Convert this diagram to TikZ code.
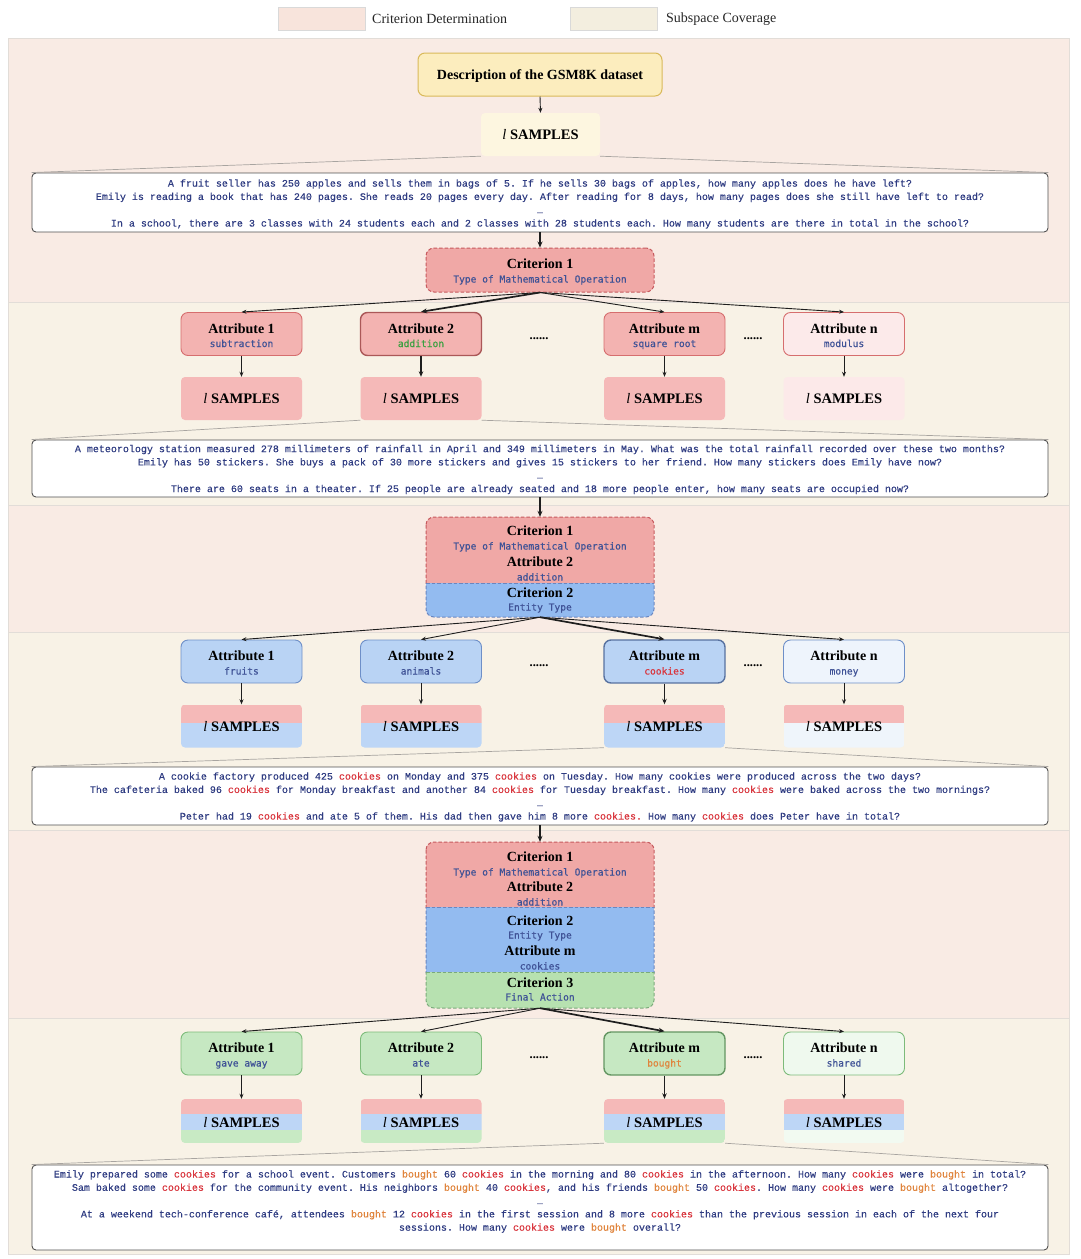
\documentclass[tikz,border=0pt]{standalone}
\usepackage{fontspec}
\usepackage{graphicx}
\setmainfont{Liberation Serif}
\setmonofont[FakeBold=0.3]{Liberation Mono}
\newfontfamily\labmono[FakeBold=0.5]{DejaVu Sans Mono}
\usetikzlibrary{arrows.meta}

\definecolor{bandpink}{HTML}{F9EBE4}
\definecolor{bandcream}{HTML}{F8F2E6}
\definecolor{bandline}{HTML}{E2DDD8}
\definecolor{legpink}{HTML}{F8E4DC}
\definecolor{legcream}{HTML}{F3EEDF}
\definecolor{legline}{HTML}{D9D9D9}
\definecolor{descfill}{HTML}{FCEDBE}
\definecolor{descdraw}{HTML}{D9B95A}
\definecolor{sampzero}{HTML}{FDF6E0}
\definecolor{tboxline}{HTML}{505050}
\definecolor{navy}{HTML}{2F3C82}
\definecolor{labblue}{HTML}{3F5296}
\definecolor{addgreen}{HTML}{3AA040}
\definecolor{ckred}{HTML}{D9363E}
\definecolor{btorange}{HTML}{E0843C}
\definecolor{critP}{HTML}{F0A8A6}
\definecolor{critPd}{HTML}{C65A5E}
\definecolor{critB}{HTML}{93BBF0}
\definecolor{critBd}{HTML}{6A86C0}
\definecolor{critG}{HTML}{B7E1B0}
\definecolor{critGd}{HTML}{7AAA7A}
\definecolor{attrPf}{HTML}{F3B3B1}
\definecolor{attrPd}{HTML}{D66E6E}
\definecolor{attrPl}{HTML}{FCEAEA}
\definecolor{attrBf}{HTML}{B9D3F4}
\definecolor{attrBd}{HTML}{6E8FC8}
\definecolor{attrBl}{HTML}{EEF4FC}
\definecolor{attrGf}{HTML}{C6E8C2}
\definecolor{attrGd}{HTML}{7DBB7A}
\definecolor{attrGl}{HTML}{EFF9EE}
\definecolor{sampP}{HTML}{F5B9B8}
\definecolor{sampPl}{HTML}{FCE9E9}
\definecolor{sampB}{HTML}{BDD6F6}
\definecolor{sampBl}{HTML}{EFF5FB}
\definecolor{sampG}{HTML}{C8EAC4}
\definecolor{sampGl}{HTML}{F2FAF1}
\definecolor{arrowc}{HTML}{1E1E1E}
\definecolor{fanc}{HTML}{A8A4A0}

\newcommand{\SAMP}{{\mdseries\itshape l} SAMPLES}
\newcommand{\ck}[1]{\textcolor{ckred}{#1}}
\newcommand{\bt}[1]{\textcolor{btorange}{#1}}

\tikzset{
  ttl/.style={font=\bfseries\fontsize{14}{16}\selectfont, inner sep=0pt, text height=9.3pt, text depth=0pt, text=black},
  sublab/.style={font=\labmono\fontsize{9.6}{11}\selectfont, inner sep=0pt, text height=7pt, text depth=0pt, text=labblue},
  legtxt/.style={font=\fontsize{14}{16}\selectfont, inner sep=0pt, text=black!85},
  swatch/.style={rectangle, draw=legline, line width=0.6pt, minimum width=87pt, minimum height=23pt, inner sep=0pt},
  attrbox/.style={rectangle, rounded corners=7pt, minimum width=121pt, minimum height=43pt, inner sep=0pt, line width=0.9pt},
  sampbox/.style={rectangle, rounded corners=4pt, minimum width=121pt, minimum height=43pt, inner sep=0pt},
  stxt/.style={font=\bfseries\fontsize{14.5}{16}\selectfont, inner sep=0pt, text height=9.5pt, text depth=0pt},
  tbox/.style={draw=tboxline, fill=white, rounded corners=4pt, line width=0.9pt, minimum width=1016pt, inner sep=0pt},
  ttext/.style={inner sep=0pt, font=\ttfamily\fontsize{10}{13.3}\selectfont, text=navy, align=center},
  arr/.style={-{Stealth[length=5pt,width=4pt]}, line width=0.9pt, draw=arrowc},
  harr/.style={-{Stealth[length=6pt,width=5pt]}, line width=1.7pt, draw=arrowc},
  marr/.style={-{Stealth[length=5.5pt,width=4.5pt]}, line width=1.3pt, draw=arrowc},
  fan/.style={draw=fanc, line width=0.7pt},
  dotsl/.style={font=\bfseries\fontsize{12.5}{14}\selectfont, inner sep=0pt},
  critline/.style={line width=1pt, dash pattern=on 3.5pt off 2pt},
  critnode/.style={rectangle, minimum width=228pt, inner sep=0pt},
}

% #1 name, #2 cx, #3 cy, #4 box style, #5 title, #6 sub, #7 sub colour
\newcommand{\Attr}[7]{%
  \node[attrbox,#4] (#1) at (#2,#3) {};
  \node[ttl] (#1t) at (#2,{#3-5.5}) {#5};
  \node[sublab,text=#7] (#1s) at (#2,{#3+9.5}) {#6};
}
% one colour sample box
\newcommand{\SampOne}[4]{%
  \node[sampbox,fill=#4] (#1) at (#2,#3) {};
  \node[stxt] (#1t) at (#2,#3) {\SAMP};
}
% two stripes
\newcommand{\SampTwo}[5]{%
  \begin{scope}
    \clip[rounded corners=4pt] ({#2-60.5},{#3-21.5}) rectangle ({#2+60.5},{#3+21.5});
    \fill[#4] ({#2-60.5},{#3-21.5}) rectangle ({#2+60.5},{#3-3});
    \fill[#5] ({#2-60.5},{#3-3}) rectangle ({#2+60.5},{#3+21.5});
  \end{scope}
  \node[sampbox] (#1) at (#2,#3) {};
  \node[stxt] (#1t) at (#2,{#3+1}) {\SAMP};
}
% three stripes
\newcommand{\SampThree}[6]{%
  \begin{scope}
    \clip[rounded corners=4pt] ({#2-60.5},{#3-22}) rectangle ({#2+60.5},{#3+22});
    \fill[#4] ({#2-60.5},{#3-22}) rectangle ({#2+60.5},{#3-7});
    \fill[#5] ({#2-60.5},{#3-7}) rectangle ({#2+60.5},{#3+9});
    \fill[#6] ({#2-60.5},{#3+9}) rectangle ({#2+60.5},{#3+22});
  \end{scope}
  \node[sampbox,minimum height=44pt] (#1) at (#2,#3) {};
  \node[stxt] (#1t) at (#2,{#3+2}) {\SAMP};
}

\begin{document}
\begin{tikzpicture}[x=1pt,y=-1pt]
\useasboundingbox (0,0) rectangle (1080,1259);

% ---------- legend
\node[swatch,fill=legpink] (lgA) at (321.5,18.5) {};
\node[legtxt,anchor=west] (lgAt) at (372,19) {Criterion Determination};
\node[swatch,fill=legcream] (lgB) at (613.5,18.5) {};
\node[legtxt,anchor=west] (lgBt) at (666,19) {Subspace Coverage};

% ---------- bands
\fill[bandpink] (8,38) rectangle (1069,302);
\fill[bandcream] (8,302) rectangle (1069,505);
\fill[bandpink] (8,505) rectangle (1069,632);
\fill[bandcream] (8,632) rectangle (1069,830);
\fill[bandpink] (8,830) rectangle (1069,1018);
\fill[bandcream] (8,1018) rectangle (1069,1254);
\draw[bandline,line width=0.8pt] (8,38) rectangle (1069,1254);
\foreach \yy in {302,505,632,830,1018} \draw[bandline,line width=0.8pt] (8,\yy) -- (1069,\yy);

% ---------- top
\node[rectangle, rounded corners=7pt, draw=descdraw, fill=descfill, line width=1pt, minimum width=244pt, minimum height=43pt, inner sep=0pt] (D) at (540,74.5) {};
\node[ttl] (Dt) at (540,74.5) {Description of the GSM8K dataset};
\node[sampbox,fill=sampzero,minimum width=119pt] (S0) at (540.5,134.5) {};
\node[stxt] (S0t) at (540.5,134.5) {\SAMP};
\draw[arr] (D.south) -- (S0.north);

\node[tbox,minimum height=59pt] (T1) at (540,202.5) {};
\node[ttext] (T1x) at (540,204) {A fruit seller has 250 apples and sells them in bags of 5. If he sells 30 bags of apples, how many apples does he have left?\\
Emily is reading a book that has 240 pages. She reads 20 pages every day. After reading for 8 days, how many pages does she still have left to read?\\
…\\
In a school, there are 3 classes with 24 students each and 2 classes with 28 students each. How many students are there in total in the school?};
\draw[fan] (S0.south west) -- (T1.north west);
\draw[fan] (S0.south east) -- (T1.north east);

% ---------- criterion 1
\node[critnode, draw=critPd, fill=critP, critline, rounded corners=8pt, minimum height=44pt] (C1) at (540,270) {};
\node[ttl] (C1a) at (540,264) {Criterion 1};
\node[sublab] (C1b) at (540,279) {Type of Mathematical Operation};
\draw[harr] (T1.south) -- (C1.north);

% ---------- row 1
\Attr{A11}{241.5}{334}{draw=attrPd,fill=attrPf}{Attribute 1}{subtraction}{labblue}
\Attr{A12}{421}{334}{draw=attrPd!80!black,fill=attrPf,line width=1.4pt}{Attribute 2}{addition}{addgreen}
\Attr{A1m}{664.5}{334}{draw=attrPd,fill=attrPf}{Attribute m}{square root}{labblue}
\Attr{A1n}{844}{334}{draw=attrPd,fill=attrPl}{Attribute n}{modulus}{labblue}
\node[dotsl] (d11) at (539,339) {......};
\node[dotsl] (d12) at (753,339) {......};
\draw[arr] (C1.south) -- (A11.north);
\draw[harr] (C1.south) -- (A12.north);
\draw[arr] (C1.south) -- (A1m.north);
\draw[arr] (C1.south) -- (A1n.north);

\SampOne{S11}{241.5}{398.5}{sampP}
\SampOne{S12}{421}{398.5}{sampP}
\SampOne{S1m}{664.5}{398.5}{sampP}
\SampOne{S1n}{844}{398.5}{sampPl}
\draw[arr] (A11.south) -- (S11.north);
\draw[marr] (A12.south) -- (S12.north);
\draw[arr] (A1m.south) -- (S1m.north);
\draw[arr] (A1n.south) -- (S1n.north);

\node[tbox,minimum height=57pt] (T2) at (540,468.5) {};
\node[ttext] (T2x) at (540,469.5) {A meteorology station measured 278 millimeters of rainfall in April and 349 millimeters in May. What was the total rainfall recorded over these two months?\\
Emily has 50 stickers. She buys a pack of 30 more stickers and gives 15 stickers to her friend. How many stickers does Emily have now?\\
…\\
There are 60 seats in a theater. If 25 people are already seated and 18 more people enter, how many seats are occupied now?};
\draw[fan] (S12.south west) -- (T2.north west);
\draw[fan] (S12.south east) -- (T2.north east);

% ---------- criterion block 2
\begin{scope}
  \clip[rounded corners=8pt] (426,517) rectangle (654,617);
  \fill[critP] (426,517) rectangle (654,583);
  \fill[critB] (426,583) rectangle (654,617);
\end{scope}
\begin{scope}
  \clip (400,505) rectangle (680,583);
  \draw[critline,draw=critPd,rounded corners=8pt] (426,517) rectangle (654,617);
\end{scope}
\begin{scope}
  \clip (400,583) rectangle (680,630);
  \draw[critline,draw=critBd,rounded corners=8pt] (426,517) rectangle (654,617);
\end{scope}
\draw[critline,draw=critBd] (426,583) -- (654,583);
\node[critnode,minimum height=100pt] (C2) at (540,567) {};
\node[ttl] (C2a) at (540,531) {Criterion 1};
\node[sublab] (C2b) at (540,546) {Type of Mathematical Operation};
\node[ttl] (C2c) at (540,562) {Attribute 2};
\node[sublab] (C2d) at (540,577) {addition};
\node[ttl] (C2e) at (540,593) {Criterion 2};
\node[sublab] (C2f) at (540,607) {Entity Type};
\draw[harr] (T2.south) -- (C2.north);

% ---------- row 2
\Attr{A21}{241.5}{661.5}{draw=attrBd,fill=attrBf}{Attribute 1}{fruits}{labblue}
\Attr{A22}{421}{661.5}{draw=attrBd,fill=attrBf}{Attribute 2}{animals}{labblue}
\Attr{A2m}{664.5}{661.5}{draw=attrBd!80!black,fill=attrBf,line width=1.4pt}{Attribute m}{cookies}{ckred}
\Attr{A2n}{844}{661.5}{draw=attrBd,fill=attrBl}{Attribute n}{money}{labblue}
\node[dotsl] (d21) at (539,666) {......};
\node[dotsl] (d22) at (753,666) {......};
\draw[arr] (C2.south) -- (A21.north);
\draw[arr] (C2.south) -- (A22.north);
\draw[harr] (C2.south) -- (A2m.north);
\draw[arr] (C2.south) -- (A2n.north);

\SampTwo{S21}{241.5}{726}{sampP}{sampB}
\SampTwo{S22}{421}{726}{sampP}{sampB}
\SampTwo{S2m}{664.5}{726}{sampP}{sampB}
\SampTwo{S2n}{844}{726}{sampP}{sampBl}
\draw[arr] (A21.south) -- (S21.north);
\draw[arr] (A22.south) -- (S22.north);
\draw[marr] (A2m.south) -- (S2m.north);
\draw[arr] (A2n.south) -- (S2n.north);

\node[tbox,minimum height=58pt] (T3) at (540,796) {};
\node[ttext] (T3x) at (540,797) {A cookie factory produced 425 \ck{cookies} on Monday and 375 \ck{cookies} on Tuesday. How many cookies were produced across the two days?\\
The cafeteria baked 96 \ck{cookies} for Monday breakfast and another 84 \ck{cookies} for Tuesday breakfast. How many \ck{cookies} were baked across the two mornings?\\
…\\
Peter had 19 \ck{cookies} and ate 5 of them. His dad then gave him 8 more \ck{cookies.} How many \ck{cookies} does Peter have in total?};
\draw[fan] (S2m.south west) -- (T3.north west);
\draw[fan] (S2m.south east) -- (T3.north east);

% ---------- criterion block 3
\begin{scope}
  \clip[rounded corners=8pt] (426,842) rectangle (654,1008);
  \fill[critP] (426,842) rectangle (654,907);
  \fill[critB] (426,907) rectangle (654,972);
  \fill[critG] (426,972) rectangle (654,1008);
\end{scope}
\begin{scope}
  \clip (400,830) rectangle (680,907);
  \draw[critline,draw=critPd,rounded corners=8pt] (426,842) rectangle (654,1008);
\end{scope}
\begin{scope}
  \clip (400,907) rectangle (680,972);
  \draw[critline,draw=critBd,rounded corners=8pt] (426,842) rectangle (654,1008);
\end{scope}
\begin{scope}
  \clip (400,972) rectangle (680,1018);
  \draw[critline,draw=critGd,rounded corners=8pt] (426,842) rectangle (654,1008);
\end{scope}
\draw[critline,draw=critBd] (426,907) -- (654,907);
\draw[critline,draw=critGd] (426,972) -- (654,972);
\node[critnode,minimum height=166pt] (C3) at (540,925) {};
\node[ttl] (C3a) at (540,857) {Criterion 1};
\node[sublab] (C3b) at (540,872) {Type of Mathematical Operation};
\node[ttl] (C3c) at (540,887) {Attribute 2};
\node[sublab] (C3d) at (540,902) {addition};
\node[ttl] (C3e) at (540,921) {Criterion 2};
\node[sublab] (C3f) at (540,935) {Entity Type};
\node[ttl] (C3g) at (540,951) {Attribute m};
\node[sublab] (C3h) at (540,966) {cookies};
\node[ttl] (C3i) at (540,983) {Criterion 3};
\node[sublab] (C3j) at (540,997) {Final Action};
\draw[harr] (T3.south) -- (C3.north);

% ---------- row 3
\Attr{A31}{241.5}{1053.5}{draw=attrGd,fill=attrGf}{Attribute 1}{gave away}{labblue}
\Attr{A32}{421}{1053.5}{draw=attrGd,fill=attrGf}{Attribute 2}{ate}{labblue}
\Attr{A3m}{664.5}{1053.5}{draw=attrGd!80!black,fill=attrGf,line width=1.4pt}{Attribute m}{bought}{btorange}
\Attr{A3n}{844}{1053.5}{draw=attrGd,fill=attrGl}{Attribute n}{shared}{labblue}
\node[dotsl] (d31) at (539,1058) {......};
\node[dotsl] (d32) at (753,1058) {......};
\draw[arr] (C3.south) -- (A31.north);
\draw[arr] (C3.south) -- (A32.north);
\draw[harr] (C3.south) -- (A3m.north);
\draw[arr] (C3.south) -- (A3n.north);

\SampThree{S31}{241.5}{1121}{sampP}{sampB}{sampG}
\SampThree{S32}{421}{1121}{sampP}{sampB}{sampG}
\SampThree{S3m}{664.5}{1121}{sampP}{sampB}{sampG}
\SampThree{S3n}{844}{1121}{sampP}{sampB}{sampGl}
\draw[arr] (A31.south) -- (S31.north);
\draw[arr] (A32.south) -- (S32.north);
\draw[marr] (A3m.south) -- (S3m.north);
\draw[arr] (A3n.south) -- (S3n.north);

\node[tbox,minimum height=85pt] (T4) at (540,1207.5) {};
\node[ttext] (T4x) at (540,1201.5) {Emily prepared some \ck{cookies} for a school event. Customers \bt{bought} 60 \ck{cookies} in the morning and 80 \ck{cookies} in the afternoon. How many \ck{cookies} were \bt{bought} in total?\\
Sam baked some \ck{cookies} for the community event. His neighbors \bt{bought} 40 \ck{cookies}, and his friends \bt{bought} 50 \ck{cookies}. How many \ck{cookies} were \bt{bought} altogether?\\
…\\
At a weekend tech-conference café, attendees \bt{bought} 12 \ck{cookies} in the first session and 8 more \ck{cookies} than the previous session in each of the next four\\
sessions. How many \ck{cookies} were \bt{bought} overall?};
\draw[fan] (S3m.south west) -- (T4.north west);
\draw[fan] (S3m.south east) -- (T4.north east);

\end{tikzpicture}
\end{document}
